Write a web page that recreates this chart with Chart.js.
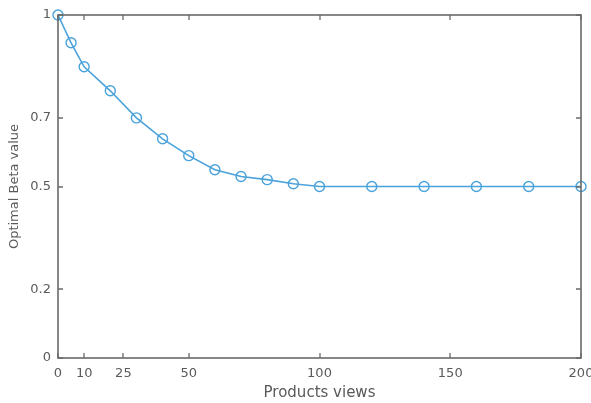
<!DOCTYPE html>
<html>
<head>
<meta charset="utf-8">
<script src="https://cdn.jsdelivr.net/npm/chart.js@4/dist/chart.umd.min.js"></script>
<style>
html,body{margin:0;padding:0;background:#fff;}
#wrap{width:591px;height:403px;position:relative;}
</style>
</head>
<body>
<div id="wrap"><canvas id="c" width="591" height="403"></canvas></div>
<script>
const productViews = [0, 5, 10, 20, 30, 40, 50, 60, 70, 80, 90, 100, 120, 140, 160, 180, 200];
const optimalBeta = [1.0, 0.919, 0.849, 0.779, 0.700, 0.639, 0.590, 0.549, 0.529, 0.520, 0.508, 0.500, 0.500, 0.500, 0.500, 0.500, 0.500];
const xTicks = [0, 10, 25, 50, 100, 150, 200];
const yTicks = [0, 0.2, 0.5, 0.7, 1];

const lineColor = '#4aa2db';
const axisColor = '#6a6a6a';
const textColor = '#5a5a5a';
const fontFamily = 'DejaVu Sans';

const boxPlugin = {
  id: 'box',
  afterDatasetsDraw(chart) {
    const {ctx, chartArea: a, scales} = chart;
    ctx.save();
    ctx.strokeStyle = axisColor;
    ctx.lineWidth = 1.6;
    ctx.strokeRect(Math.round(a.left), Math.round(a.top), Math.round(a.right - a.left), Math.round(a.bottom - a.top));
    const tl = 5;
    ctx.lineWidth = 1.3;
    ctx.beginPath();
    xTicks.forEach(v => {
      const px = Math.round(scales.x.getPixelForValue(v));
      ctx.moveTo(px, a.bottom); ctx.lineTo(px, a.bottom - tl);
      ctx.moveTo(px, a.top); ctx.lineTo(px, a.top + tl);
    });
    yTicks.forEach(v => {
      const py = Math.round(scales.y.getPixelForValue(v));
      ctx.moveTo(a.left, py); ctx.lineTo(a.left + tl, py);
      ctx.moveTo(a.right, py); ctx.lineTo(a.right - tl, py);
    });
    ctx.stroke();
    ctx.restore();
  }
};

new Chart(document.getElementById('c'), {
  type: 'scatter',
  data: {
    datasets: [{
      data: productViews.map((x, i) => ({x: x, y: optimalBeta[i]})),
      showLine: true,
      borderColor: lineColor,
      borderWidth: 1.6,
      pointStyle: 'circle',
      pointRadius: 5,
      pointBorderWidth: 1.4,
      pointBorderColor: lineColor,
      pointBackgroundColor: 'rgba(0,0,0,0)',
      tension: 0,
      clip: false
    }]
  },
  options: {
    responsive: false,
    animation: false,
    devicePixelRatio: 1,
    layout: {padding: {left: 0, right: 10, top: 15, bottom: 0}},
    plugins: {legend: {display: false}, tooltip: {enabled: false}},
    scales: {
      x: {
        type: 'linear', min: 0, max: 200,
        afterBuildTicks: s => { s.ticks = xTicks.map(v => ({value: v})); },
        afterFit: s => { s.height = 45; s.paddingLeft = 0; s.paddingRight = 0; },
        grid: {display: false, drawTicks: false},
        border: {display: false},
        ticks: {color: textColor, font: {family: fontFamily, size: 13}, padding: 8, maxRotation: 0, autoSkip: false},
        title: {display: true, text: 'Products views', color: textColor, font: {family: fontFamily, size: 15}, padding: {top: 0, bottom: 1}}
      },
      y: {
        type: 'linear', min: 0, max: 1,
        afterBuildTicks: s => { s.ticks = yTicks.map(v => ({value: v})); },
        afterFit: s => { s.width = 58; s.paddingTop = 0; s.paddingBottom = 0; },
        grid: {display: false, drawTicks: false},
        border: {display: false},
        ticks: {color: textColor, font: {family: fontFamily, size: 13}, padding: 7, autoSkip: false,
          callback: v => String(v)},
        title: {display: true, text: 'Optimal Beta value', color: textColor, font: {family: fontFamily, size: 13}, padding: {top: 7, bottom: 0}}
      }
    }
  },
  plugins: [boxPlugin]
});
</script>
</body>
</html>
